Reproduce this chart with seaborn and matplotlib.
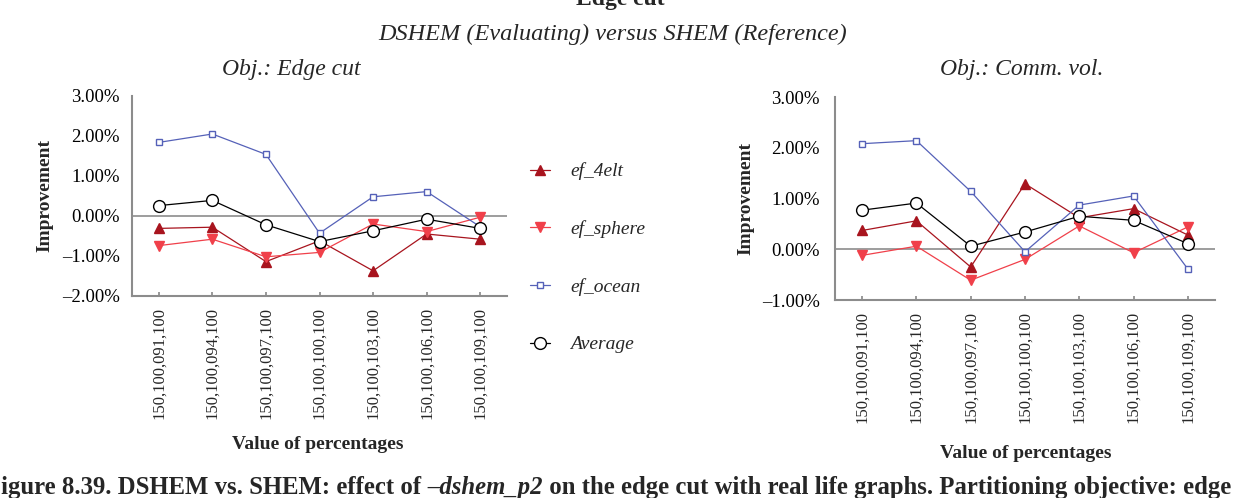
import matplotlib
matplotlib.use("Agg")
import matplotlib.pyplot as plt
import seaborn as sns
import pandas as pd
from matplotlib.ticker import FuncFormatter, FixedLocator

sns.set_theme(style="white")
plt.rcParams['font.family'] = ['Liberation Serif', 'DejaVu Serif']

categories = ["150,100,091,100", "150,100,094,100", "150,100,097,100", "150,100,100,100",
              "150,100,103,100", "150,100,106,100", "150,100,109,100"]
series_names = ["ef_4elt", "ef_sphere", "ef_ocean", "Average"]

# Obj.: Edge cut (percent)
edge_4elt = [-0.31, -0.28, -1.14, -0.62, -1.37, -0.45, -0.58]
edge_sphere = [-0.74, -0.58, -1.02, -0.91, -0.20, -0.39, -0.03]
edge_ocean = [1.84, 2.05, 1.54, -0.43, 0.48, 0.61, -0.27]
edge_avg = [0.26, 0.39, -0.22, -0.64, -0.37, -0.08, -0.31]

# Obj.: Comm. vol. (percent)
comm_4elt = [0.37, 0.56, -0.35, 1.29, 0.62, 0.80, 0.28]
comm_sphere = [-0.12, 0.06, -0.61, -0.20, 0.46, -0.07, 0.44]
comm_ocean = [2.08, 2.14, 1.14, -0.05, 0.87, 1.05, -0.39]
comm_avg = [0.77, 0.91, 0.06, 0.34, 0.65, 0.57, 0.11]

styles = {
    "ef_4elt": dict(color="#A8141E", marker="^", markersize=7.5, markerfacecolor="#A8141E", markeredgecolor="#A8141E"),
    "ef_sphere": dict(color="#F0404A", marker="v", markersize=7.5, markerfacecolor="#F0404A", markeredgecolor="#F0404A"),
    "ef_ocean": dict(color="#5561B8", marker="s", markersize=5, markerfacecolor="white", markeredgecolor="#5561B8"),
    "Average": dict(color="black", marker="o", markersize=8.5, markerfacecolor="white", markeredgecolor="black"),
}

W, H = 1240, 498
fig = plt.figure(figsize=(W / 100, H / 100), dpi=100)

def fx(px):
    return px / W

def fy(py):
    return 1 - py / H

def pct(v, pos):
    s = f"{abs(v):.2f}%"
    return ("\u2013" + s) if v < -1e-9 else s

grey = "#8C8C8C"

def make_panel(rect, data, ylim, ylabel_x, ypad):
    ax = fig.add_axes(rect)
    x = list(range(len(categories)))
    for name, vals in zip(series_names, data):
        df = pd.DataFrame({"x": x, "y": vals})
        st = styles[name]
        sns.lineplot(data=df, x="x", y="y", ax=ax, color=st["color"], marker=st["marker"],
                     markersize=st["markersize"], markerfacecolor=st["markerfacecolor"],
                     markeredgecolor=st["markeredgecolor"], markeredgewidth=1.0,
                     linewidth=0.9, label=name, legend=False)
    ax.axhline(0, color=grey, linewidth=1.2, zorder=0)
    ax.set_xlim(-0.5, 6.5)
    ax.set_ylim(*ylim)
    ax.yaxis.set_major_locator(FixedLocator(list(range(int(ylim[0]), int(ylim[1]) + 1))))
    ax.yaxis.set_major_formatter(FuncFormatter(pct))
    ax.set_xticks(x)
    ax.set_xticklabels(categories, rotation=90, fontsize=12)
    ax.tick_params(axis="y", length=0, pad=ypad, labelsize=13.5, labelcolor="black")
    ax.tick_params(axis="x", direction="in", length=3, color=grey, pad=8, bottom=True)
    for s in ["top", "right"]:
        ax.spines[s].set_visible(False)
    for s in ["left", "bottom"]:
        ax.spines[s].set_color(grey)
        ax.spines[s].set_linewidth(1.5)
    ax.set_xlabel("")
    ax.set_ylabel("")
    ax.grid(False)
    fig.text(fx(ylabel_x), (rect[1] + rect[3] / 2), "Improvement", rotation=90, ha="center", va="center",
             fontsize=14, fontweight="bold")
    return ax

axL = make_panel([fx(132), fy(296), fx(507 - 132), (296 - 96) / H],
                 [edge_4elt, edge_sphere, edge_ocean, edge_avg], (-2, 3), 45, 9)
axR = make_panel([fx(835), fy(300), fx(1215 - 835), (300 - 97) / H],
                 [comm_4elt, comm_sphere, comm_ocean, comm_avg], (-1, 3), 746, 11)

fig.text(fx(318), fy(444), "Value of percentages", ha="center", va="center", fontsize=14, fontweight="bold")
fig.text(fx(1026), fy(453), "Value of percentages", ha="center", va="center", fontsize=14, fontweight="bold")

fig.text(fx(291), fy(70), "Obj.: Edge cut", ha="center", va="center", fontsize=17, style="italic")
fig.text(fx(1022), fy(70), "Obj.: Comm. vol.", ha="center", va="center", fontsize=17, style="italic")

fig.text(fx(613), fy(34), "DSHEM (Evaluating) versus SHEM (Reference)", ha="center", va="center",
         fontsize=17.5, style="italic")
fig.text(fx(620), fy(5), "Edge cut", ha="center", va="baseline", fontsize=17, fontweight="bold")

handles, labels = axL.get_legend_handles_labels()
fig.legend(handles, labels, loc="upper left", bbox_to_anchor=(fx(512), fy(145)), frameon=False,
           prop=dict(family="Liberation Serif", style="italic", size=14), labelspacing=2.05,
           handlelength=1.05, handletextpad=1.05)

# caption with mixed styles
fig.canvas.draw()
renderer = fig.canvas.get_renderer()
parts = [("Figure 8.39. DSHEM vs. SHEM: effect of ", "normal"),
         ("\u2013dshem_p2", "italic"),
         (" on the edge cut with real life graphs. Partitioning objective: edge", "normal")]
xpos = -14
for txt, stl in parts:
    t = fig.text(fx(xpos), fy(487), txt, ha="left", va="center", fontsize=17.8, fontweight="bold", style=stl)
    bb = t.get_window_extent(renderer=renderer)
    xpos += bb.width

fig.savefig("out.png", dpi=100)
